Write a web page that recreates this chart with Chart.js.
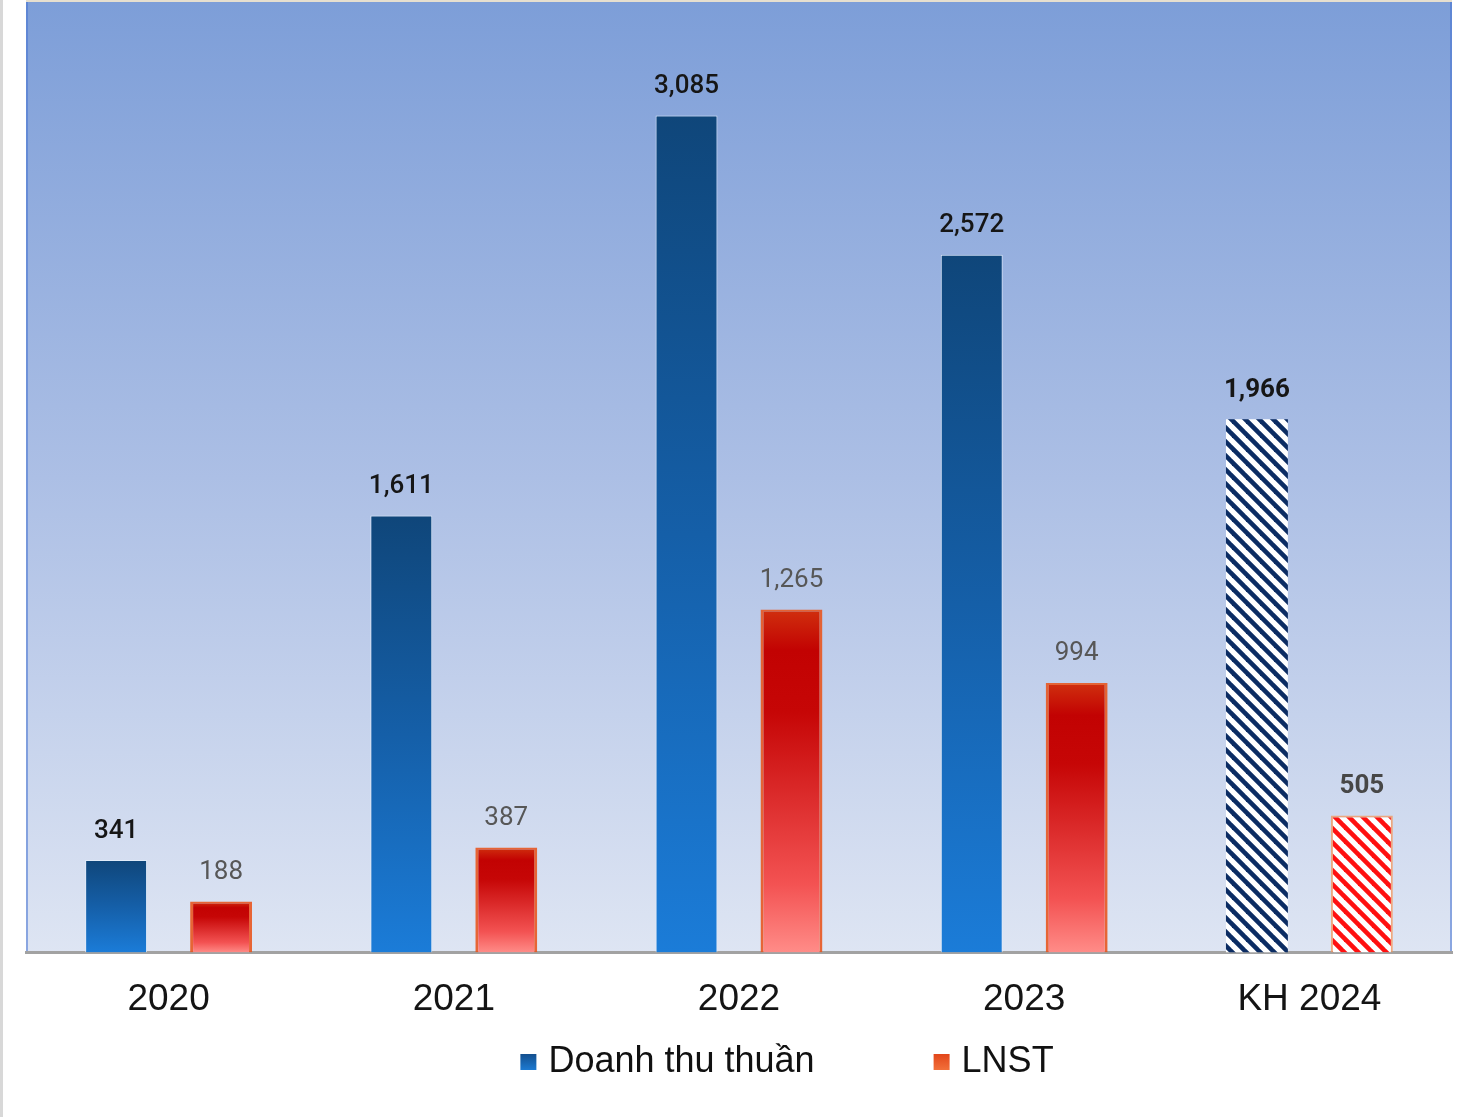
<!DOCTYPE html>
<html>
<head>
<meta charset="utf-8">
<style>
html,body{margin:0;padding:0;background:#fff;}
#wrap{width:1476px;height:1117px;position:relative;}
canvas{display:block;}
</style>
<script src="https://cdn.jsdelivr.net/npm/chart.js@4.4.1/dist/chart.umd.min.js"></script>
</head>
<body>
<div id="wrap"><canvas id="c" width="1476" height="1117"></canvas></div>
<script>
const categories = ['2020', '2021', '2022', '2023', 'KH 2024'];
const revenue = [341, 1611, 3085, 2572, 1966];
const profit = [188, 387, 1265, 994, 505];
const seriesNames = ['Doanh thu thuần', 'LNST'];
const planIndex = 4;
const yMin = 0;
const yMax = 3500;

function makeHatch(color) {
  const s = 14;
  const c = document.createElement('canvas');
  c.width = s; c.height = s;
  const g = c.getContext('2d');
  g.fillStyle = '#ffffff';
  g.fillRect(0, 0, s, s);
  g.strokeStyle = color;
  g.lineWidth = 4.6;
  for (let k = -1; k <= 1; k++) {
    g.beginPath();
    g.moveTo(k * s - 2, -2);
    g.lineTo(k * s + s + 2, s + 2);
    g.stroke();
  }
  return document.getElementById('c').getContext('2d').createPattern(c, 'repeat');
}
const blueHatch = makeHatch('#0b2c63');
const redHatch = makeHatch('#ff1010');

function barGeom(ctx) {
  const chart = ctx.chart;
  const y = chart.scales && chart.scales.y;
  if (!y || ctx.type !== 'data' || ctx.raw == null) return null;
  const top = y.getPixelForValue(ctx.raw), base = y.getPixelForValue(0);
  if (!isFinite(top) || !isFinite(base) || top === base) return null;
  return { top, base };
}

function revenueFill(ctx) {
  if (ctx.dataIndex === planIndex) return blueHatch;
  const gm = barGeom(ctx);
  if (!gm) return '#1665b4';
  const g = ctx.chart.ctx.createLinearGradient(0, gm.top, 0, gm.base);
  g.addColorStop(0, '#0f467a');
  g.addColorStop(0.5, '#155fa8');
  g.addColorStop(1, '#1b7cd8');
  return g;
}

function profitFill(ctx) {
  if (ctx.dataIndex === planIndex) return redHatch;
  const gm = barGeom(ctx);
  if (!gm) return '#d42020';
  const g = ctx.chart.ctx.createLinearGradient(0, gm.top, 0, gm.base);
  g.addColorStop(0, '#d0300e');
  g.addColorStop(0.12, '#c20202');
  g.addColorStop(0.3, '#c60606');
  g.addColorStop(0.55, '#dc2c2c');
  g.addColorStop(0.8, '#f35252');
  g.addColorStop(1, '#ff8c88');
  return g;
}

const bgPlugin = {
  id: 'bg',
  beforeDraw(chart) {
    const { ctx, chartArea: a, width, height } = chart;
    ctx.save();
    ctx.fillStyle = '#ffffff';
    ctx.fillRect(0, 0, width, height);
    ctx.fillStyle = '#d8d8d8';
    ctx.fillRect(0, 0, 3, height);
    ctx.fillStyle = '#e6dfcf';
    ctx.fillRect(a.left, 0, a.right - a.left, 2);
    const top = a.top - 1;
    const g = ctx.createLinearGradient(0, top, 0, a.bottom);
    g.addColorStop(0, '#7d9ed8');
    g.addColorStop(0.5, '#acbfe5');
    g.addColorStop(1, '#dee5f3');
    ctx.fillStyle = g;
    ctx.fillRect(a.left, top, a.right - a.left, a.bottom - top);
    ctx.fillStyle = 'rgba(70,115,210,0.55)';
    ctx.fillRect(a.left, top, 2, a.bottom - top);
    ctx.fillRect(a.right - 2, top, 2, a.bottom - top);
    ctx.restore();
  }
};

const labelPlugin = {
  id: 'valueLabels',
  afterDatasetsDraw(chart) {
    const ctx = chart.ctx;
    ctx.save();
    ctx.textAlign = 'center';
    ctx.textBaseline = 'middle';
    chart.data.datasets.forEach((ds, di) => {
      const meta = chart.getDatasetMeta(di);
      meta.data.forEach((el, i) => {
        const v = ds.data[i];
        const isPlan = i === planIndex;
        if (di === 0) {
          ctx.fillStyle = '#161616';
          ctx.font = (isPlan ? 'bold ' : '500 ') + '26px Roboto';
        } else {
          ctx.fillStyle = isPlan ? '#474747' : '#575757';
          ctx.font = (isPlan ? 'bold ' : '400 ') + '26px Roboto';
        }
        ctx.fillText(v.toLocaleString('en-US'), el.x, el.y - 29);
      });
    });
    ctx.restore();
  }
};

const legendPlugin = {
  id: 'customLegend',
  afterDraw(chart) {
    const ctx = chart.ctx;
    ctx.save();
    ctx.font = '36px "Liberation Sans", Arial, sans-serif';
    ctx.textBaseline = 'middle';
    ctx.textAlign = 'left';
    const box = 16, gapText = 12, gapItem = 119;
    const w0 = ctx.measureText(seriesNames[0]).width;
    const w1 = ctx.measureText(seriesNames[1]).width;
    const total = box + gapText + w0 + gapItem + box + gapText + w1;
    const cy = 1062;
    let x = chart.width / 2 + 49 - total / 2;
    let g = ctx.createLinearGradient(0, cy - 8, 0, cy + 8);
    g.addColorStop(0, '#134f8e'); g.addColorStop(1, '#1c7ad2');
    ctx.fillStyle = g;
    ctx.fillRect(x, cy - 8, box, box);
    ctx.fillStyle = '#111';
    ctx.fillText(seriesNames[0], x + box + gapText, cy);
    x += box + gapText + w0 + gapItem;
    g = ctx.createLinearGradient(0, cy - 8, 0, cy + 8);
    g.addColorStop(0, '#e2461a'); g.addColorStop(1, '#f2703a');
    ctx.fillStyle = g;
    ctx.fillRect(x, cy - 8, box, box);
    ctx.fillStyle = '#111';
    ctx.fillText(seriesNames[1], x + box + gapText, cy);
    ctx.restore();
  }
};

new Chart(document.getElementById('c'), {
  type: 'bar',
  data: {
    labels: categories,
    datasets: [
      {
        label: seriesNames[0],
        data: revenue,
        backgroundColor: revenueFill,
        borderColor: (ctx) => ctx.dataIndex === planIndex ? 'rgba(0,0,0,0)' : 'rgba(225,236,250,0.9)',
        borderWidth: (ctx) => ctx.dataIndex === planIndex ? 0 : 1,
        borderSkipped: 'bottom',
        categoryPercentage: 0.736,
        barPercentage: 0.59
      },
      {
        label: seriesNames[1],
        data: profit,
        backgroundColor: profitFill,
        borderColor: (ctx) => ctx.dataIndex === planIndex ? 'rgba(245,150,90,0.75)' : 'rgba(232,86,32,0.9)',
        borderWidth: (ctx) => ctx.dataIndex === planIndex ? { left: 2, right: 2, top: 2, bottom: 0 } : { left: 3, right: 3, top: 2, bottom: 0 },
        borderSkipped: false,
        categoryPercentage: 0.736,
        barPercentage: 0.59
      }
    ]
  },
  options: {
    responsive: false,
    animation: false,
    devicePixelRatio: 1,
    layout: { padding: { left: 26, right: 24, top: 3, bottom: 70 } },
    plugins: {
      legend: { display: false },
      tooltip: { enabled: false }
    },
    scales: {
      x: {
        grid: { display: false, drawTicks: false },
        border: { display: true, color: '#a2a2a2', width: 3 },
        ticks: {
          color: '#141414',
          font: { family: '"Liberation Sans", Arial, sans-serif', size: 37 },
          padding: 25
        }
      },
      y: {
        display: false,
        min: yMin,
        max: yMax
      }
    }
  },
  plugins: [bgPlugin, labelPlugin, legendPlugin]
});
</script>
</body>
</html>
